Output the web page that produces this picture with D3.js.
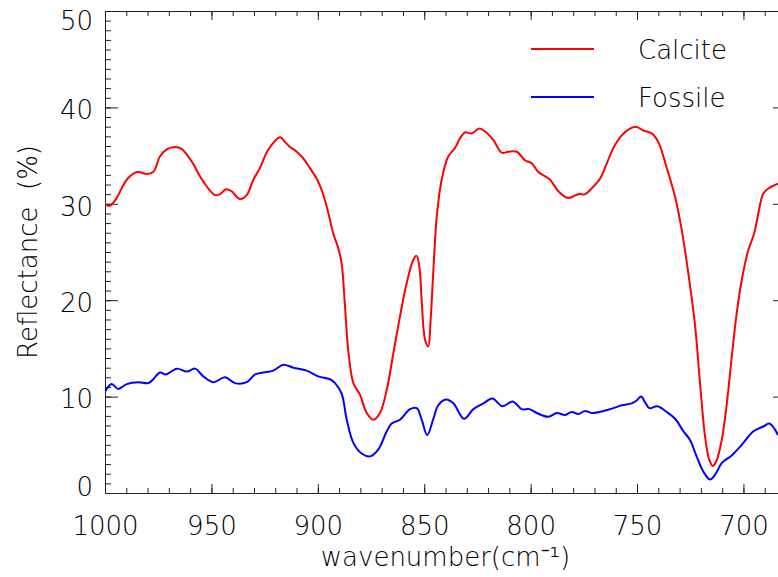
<!DOCTYPE html>
<html><head><meta charset="utf-8">
<script src="https://cdn.jsdelivr.net/npm/d3@7"></script>
<style>html,body{margin:0;padding:0;background:#fff;overflow:hidden}
svg{display:block;font-family:"DejaVu Sans",sans-serif}
text{white-space:pre}</style>
</head><body>
<svg id="chart" width="778" height="577"></svg>
<script>
// ---- data ----
const seriesNames = ["Calcite", "Fossile"];
const seriesColors = ["#ff0000", "#0000ff"];

const calciteWn = [1000,997.7,994.5,992.2,989.0,984.8,980.4,977.3,974.2,971.0,967.1,964.0,959.3,953.8,948.3,946.0,943.1,940.5,936.6,933.4,930.3,927.2,923.3,917.8,915.4,913.1,909.9,906.8,903.7,900.5,898.0,895.8,892.7,890.4,888.8,887.2,885.7,883.3,880.2,877.0,873.9,870.8,867.6,864.5,861.4,858.2,855.1,853.6,852.3,851.2,849.6,848.1,847.0,845.7,844.1,841.8,838.7,835.5,833.2,830.8,827.7,824.1,821.4,817.5,813.6,810.5,806.5,802.6,799.5,796.4,790.9,787.0,782.3,777.6,774.4,771.3,767.4,764.2,761.1,757.2,753.3,750.5,747.0,743.1,740.0,736.0,732.1,729.0,725.9,722.7,720.4,718.0,716.0,714.4,712.6,710.2,707.8,705.5,703.2,700.8,697.7,695.0,693.0,690.6,687.5,683.7];
const calciteR = [29.9,29.8,30.6,31.6,32.7,33.3,33.1,33.3,34.9,35.65,35.9,35.7,34.4,32.3,30.9,31.0,31.5,31.3,30.5,30.9,32.5,33.7,35.6,36.9,36.4,35.9,35.4,34.7,33.7,32.6,31.3,29.7,26.9,25.4,23.8,19.3,14.8,11.4,10.2,8.3,7.6,8.3,10.7,14.5,18.3,21.8,24.2,24.6,23.5,20.0,15.9,15.2,17.9,23.1,28.7,32.5,34.9,35.8,36.8,37.4,37.3,37.8,37.5,36.6,35.3,35.4,35.4,34.5,34.2,33.3,32.5,31.3,30.6,31.0,31.0,31.6,32.6,34.2,35.8,37.1,37.8,38.0,37.6,37.3,36.4,33.7,30.7,27.3,22.8,17.3,11.4,5.8,3.4,2.8,3.4,5.5,9.3,14.1,18.6,22.1,25.2,26.9,29.0,31.1,31.7,32.1];

const fossileWn = [1000,996.9,993.8,989.8,984.4,979.7,977.3,974.2,971.4,966.3,961.6,957.7,953.8,949.1,943.6,938.9,933.4,929.5,925.6,920.9,916.2,911.5,905.2,899.8,894.3,891.9,888.8,886.4,883.3,879.4,875.5,871.6,867.6,865.3,861.4,856.7,853.5,851.2,848.6,845.7,843.4,839.8,836.3,831.3,826.9,822.2,818.0,813.2,808.4,804.2,800.6,797.1,791.7,787.7,783.8,780.7,777.6,774.4,771.3,765.8,761.1,757.2,752.5,750.2,748.1,746.2,744.2,740.5,736.0,732.1,728.2,725.1,722.0,718.8,715.7,713.3,710.2,705.5,700.8,695.3,690.6,687.8,683.7];
const fossileR = [10.5,11.3,10.8,11.3,11.5,11.4,11.8,12.5,12.3,12.9,12.6,12.9,12.1,11.5,12.0,11.4,11.5,12.3,12.5,12.7,13.3,13.0,12.7,12.1,11.8,11.4,10.3,7.6,5.2,4.1,3.8,4.5,6.4,7.2,7.6,8.7,8.8,7.6,6.0,7.7,9.1,9.7,9.3,7.7,8.7,9.3,9.8,9.0,9.5,8.7,8.7,8.3,7.9,8.3,8.1,8.4,8.2,8.5,8.3,8.5,8.8,9.1,9.3,9.6,10.0,9.4,8.8,9.0,8.4,7.7,6.4,5.5,3.8,2.2,1.4,1.9,3.1,3.9,5.0,6.4,6.9,7.2,6.0];

const xDomain = [1000, 680];
const yDomain = [0, 50];
const xTicks = [1000, 950, 900, 850, 800, 750, 700];
const xMinorStep = 10;
const yTicks = [0, 10, 20, 30, 40, 50];
const yMinorStep = 1;
const xLabel = "wavenumber(cm\u207B\u00B9)";
const yLabel = "Reflectance  (%)";

// ---- layout ----
const W = 778, H = 577;
const L = 105, R = 786, T = 11, B = 493;
const FS = 26;
const FW = 200;

const svg = d3.select("#chart");
svg.append("rect").attr("width", W).attr("height", H).attr("fill", "#fff");

const x = d3.scaleLinear().domain(xDomain).range([L, R]);
const y = d3.scaleLinear().domain(yDomain).range([B, T]);

const xMinor = d3.range(xDomain[0], xDomain[1] - 0.001, -xMinorStep);
const yMinor = d3.range(yDomain[0], yDomain[1] + 0.001, yMinorStep);

function styleAxis(g) {
  g.selectAll("path.domain").attr("stroke", "#222").attr("stroke-width", 1);
  g.selectAll(".tick line").attr("stroke", "#222").attr("stroke-width", 1);
  g.selectAll("text").attr("font-size", FS).attr("font-weight", FW)
    .attr("font-family", "DejaVu Sans, sans-serif").attr("fill", "#000");
}

// minor ticks
svg.append("g").attr("transform", `translate(0,${B})`)
  .call(d3.axisBottom(x).tickValues(xMinor).tickSize(-5).tickSizeOuter(0).tickFormat(""))
  .call(styleAxis);
svg.append("g").attr("transform", `translate(0,${T})`)
  .call(d3.axisTop(x).tickValues(xMinor).tickSize(-5).tickSizeOuter(0).tickFormat(""))
  .call(styleAxis);
svg.append("g").attr("transform", `translate(${L},0)`)
  .call(d3.axisLeft(y).tickValues(yMinor).tickSize(-6).tickSizeOuter(0).tickFormat(""))
  .call(styleAxis);
svg.append("g").attr("transform", `translate(${R},0)`)
  .call(d3.axisRight(y).tickValues(yMinor).tickSize(-6).tickSizeOuter(0).tickFormat(""))
  .call(styleAxis);

// major ticks + labels
svg.append("g").attr("transform", `translate(0,${B})`)
  .call(d3.axisBottom(x).tickValues(xTicks).tickSize(-9).tickSizeOuter(0).tickPadding(24).tickFormat(d3.format("d")))
  .call(styleAxis);
svg.append("g").attr("transform", `translate(0,${T})`)
  .call(d3.axisTop(x).tickValues(xTicks).tickSize(-9).tickSizeOuter(0).tickFormat(""))
  .call(styleAxis);
const yAx = svg.append("g").attr("transform", `translate(${L},0)`)
  .call(d3.axisLeft(y).tickValues(yTicks).tickSize(-13).tickSizeOuter(0).tickPadding(12).tickFormat(d3.format("d")))
  .call(styleAxis);
yAx.selectAll(".tick text")
  .attr("dy", "0.36em")
  .attr("y", d => Math.min(Math.max(y(d) + 2, 20), 486) - y(d));
svg.append("g").attr("transform", `translate(${R},0)`)
  .call(d3.axisRight(y).tickValues(yTicks).tickSize(-13).tickSizeOuter(0).tickFormat(""))
  .call(styleAxis);

// axis titles
svg.append("text").attr("x", (L + R) / 2).attr("y", 566)
  .attr("text-anchor", "middle").attr("font-size", FS).attr("font-weight", FW).text(xLabel);
svg.append("text").attr("transform", `translate(37,${(T + B) / 2}) rotate(-90)`)
  .attr("text-anchor", "middle").attr("font-size", FS).attr("font-weight", FW).text(yLabel);

// clip
svg.append("clipPath").attr("id", "plotclip")
  .append("rect").attr("x", L).attr("y", T).attr("width", R - L).attr("height", B - T);

const line = d3.line().x(d => x(d[0])).y(d => y(d[1])).curve(d3.curveCatmullRom.alpha(0.5));
const series = [
  d3.zip(calciteWn, calciteR),
  d3.zip(fossileWn, fossileR)
];
svg.append("g").attr("clip-path", "url(#plotclip)")
  .selectAll("path").data(series).join("path")
  .attr("d", line)
  .attr("fill", "none")
  .attr("stroke", (d, i) => seriesColors[i])
  .attr("stroke-width", 2)
  .attr("stroke-linejoin", "round");

// legend
const leg = svg.append("g").selectAll("g").data(seriesNames).join("g")
  .attr("transform", (d, i) => `translate(531,${49 + i * 48})`);
leg.append("line").attr("x1", 0).attr("x2", 63).attr("y1", 0).attr("y2", 0)
  .attr("stroke", (d, i) => seriesColors[i]).attr("stroke-width", 2);
leg.append("text").attr("x", 107).attr("y", 10).attr("font-size", FS).attr("font-weight", FW).text(d => d);
</script>
</body></html>
